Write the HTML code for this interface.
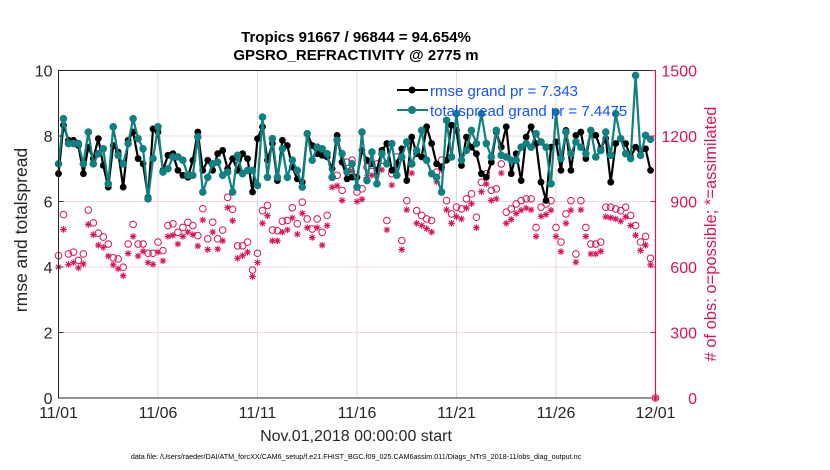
<!DOCTYPE html>
<html><head><meta charset="utf-8"><style>
html,body{margin:0;padding:0;background:#fff;}
svg{display:block;font-family:"Liberation Sans",sans-serif;}
</style></head><body>
<svg id="chart" width="830" height="470" viewBox="0 0 830 470">
  <text x="356" y="42" text-anchor="middle" font-size="15" font-weight="bold" fill="#000">Tropics 91667 / 96844 = 94.654%</text>
  <text x="356" y="60" text-anchor="middle" font-size="15" font-weight="bold" fill="#000">GPSRO_REFRACTIVITY @ 2775 m</text>
  <g id="grid"></g>
  <g id="obs"></g>
  <g id="lines"></g>
  <rect x="58.5" y="70.5" width="597" height="327.5" fill="none" stroke="#262626" stroke-width="1"/>
  <line x1="655.5" y1="70.5" x2="655.5" y2="398" stroke="#d6145a" stroke-width="1.2"/>
  <g id="axes"></g>
  <text transform="translate(27,230) rotate(-90)" text-anchor="middle" font-size="17.5" fill="#262626">rmse and totalspread</text>
  <text transform="translate(716,234) rotate(-90)" text-anchor="middle" font-size="16.5" fill="#d6145a"># of obs: o=possible; *=assimilated</text>
  <text x="356" y="441" text-anchor="middle" font-size="16" fill="#262626">Nov.01,2018 00:00:00 start</text>
  <text x="356" y="459" text-anchor="middle" font-size="7.2" fill="#000">data file: /Users/raeder/DAI/ATM_forcXX/CAM6_setup/f.e21.FHIST_BGC.f09_025.CAM6assim.011/Diags_NTrS_2018-11/obs_diag_output.nc</text>
  <g>
    <g>
      <line x1="397" y1="90" x2="428" y2="90" stroke="#000" stroke-width="2"/>
      <circle cx="412" cy="90" r="3.5" fill="#000"/>
      <text x="430" y="96" font-size="15" fill="#1452ff">rmse grand pr = 7.343</text>
    </g>
    <g>
      <line x1="397" y1="110" x2="428" y2="110" stroke="#108080" stroke-width="2"/>
      <circle cx="412" cy="110" r="4" fill="#108080"/>
      <text x="430" y="116" font-size="15" fill="#1452ff">totalspread grand pr = 7.4475</text>
    </g>
  </g>
</svg>
<script>
const xTickLabels = ["11/01","11/06","11/11","11/16","11/21","11/26","12/01"];
const xTickDays = [0,5,10,15,20,25,30];
const yLeftTicks = [0,2,4,6,8,10];
const yRightTicks = [0,300,600,900,1200,1500];
const rmse = [6.85,8.33,7.87,7.87,7.71,6.85,7.66,7.31,7.92,7.1,6.44,7.71,7.51,6.44,7.87,8.12,7.31,7.15,6.13,8.22,8.12,6.95,7.41,7.46,6.95,6.8,6.74,7.26,8.12,6.95,7.26,6.95,7.46,7.56,7.0,7.31,6.95,7.46,7.31,6.29,7.92,8.28,7.26,7.77,6.64,7.87,7.71,7.05,6.69,6.59,8.07,7.71,7.46,7.41,7.36,7.0,8.02,7.2,6.69,
6.74,6.74,7.56,7.26,7.15,6.95,7.56,7.77,6.95,7.15,7.61,6.64,7.97,7.46,7.36,8.28,7.77,7.15,7.05,7.26,8.33,8.17,7.1,7.97,7.66,7.46,6.85,6.74,7.2,8.12,7.66,8.28,6.85,7.46,6.64,7.97,8.28,7.77,6.59,6.03,7.66,7.82,6.95,8.17,6.95,8.02,8.12,7.31,8.17,8.02,7.61,7.92,6.59,7.77,7.92,7.77,7.36,7.66,7.56,7.61,6.95];
const totalspread = [7.15,8.53,7.77,7.77,7.77,7.15,8.12,7.15,7.46,7.61,6.54,8.28,7.41,7.15,7.77,8.53,7.92,7.61,6.08,7.31,8.28,6.9,7.0,7.36,7.36,7.26,6.8,6.8,7.97,6.29,6.74,7.15,7.2,6.8,6.9,6.29,7.41,6.85,6.95,6.95,6.49,8.58,6.74,7.92,6.74,7.61,6.74,7.26,6.95,6.44,8.07,7.26,7.66,7.61,7.46,6.74,7.87,7.46,6.9,
7.15,6.44,8.12,6.64,7.51,6.54,7.46,7.15,7.77,6.8,7.36,7.82,7.15,7.56,8.17,7.26,6.85,6.74,6.29,8.48,7.36,8.68,7.26,7.56,8.17,7.77,8.68,7.77,7.36,8.17,7.41,7.36,7.26,7.26,7.66,7.77,7.66,8.07,7.82,7.66,6.54,8.73,7.31,8.12,7.46,7.82,7.66,7.46,8.17,7.36,7.56,8.12,7.41,8.68,7.92,7.46,7.31,9.85,7.41,8.02,7.9];
const obsPossible = [652,840,660,668,630,660,861,802,755,737,705,642,637,599,705,795,705,705,663,663,714,675,790,798,759,781,805,790,744,867,729,805,729,769,919,864,697,697,714,586,663,858,882,769,766,810,813,871,798,897,820,774,
820,759,836,1011,1020,951,1080,1089,943,958,1057,1065,1072,1089,813,1027,1104,721,904,1072,858,836,820,813,1035,1089,904,843,874,866,912,935,828,988,1027,951,958,1072,851,866,889,904,912,912,781,874,889,904,781,714,843,904,660,904,781,705,705,714,874,874,866,858,874,836,790,714,740,640,0];
const obsAssim = [600,772,612,620,596,614,795,748,700,690,650,610,592,560,662,740,650,672,620,612,668,628,740,745,705,740,760,748,696,815,680,760,682,720,872,812,640,652,668,556,620,800,835,720,720,760,770,825,750,846,780,735,
780,700,790,965,972,905,1035,1040,900,910,1010,1020,1025,1045,770,975,1060,680,862,1030,800,790,776,760,990,1045,862,800,830,820,870,890,780,945,980,905,912,1030,800,818,845,860,870,862,740,832,840,860,740,670,800,860,622,862,740,660,660,672,830,826,820,810,830,790,745,676,700,610,0];

const NS="http://www.w3.org/2000/svg";
const X0=58.5,X1=655.5,Y0=398,Y1=70.5;
function xDay(d){return X0+(X1-X0)*d/30;}
function xIdx(i){return xDay(i*0.25);}
function yL(v){return Y0-(Y0-Y1)*v/10;}
function yR(c){return Y0-(Y0-Y1)*c/1500;}
function mk(tag,attrs,parent){const e=document.createElementNS(NS,tag);for(const k in attrs)e.setAttribute(k,attrs[k]);parent.appendChild(e);return e;}

const grid=document.getElementById('grid'),axes=document.getElementById('axes'),obs=document.getElementById('obs'),lines=document.getElementById('lines');
yLeftTicks.forEach((v,i)=>{
  if(v>0&&v<10){const g=mk('line',{x1:X0,x2:X1,y1:yL(v),y2:yL(v),stroke:'#efd7e0','stroke-width':1},grid);
  
  }
  const t=mk('text',{x:X0-6,y:yL(v)+6,'text-anchor':'end','font-size':16,fill:'#262626'},axes);t.textContent=v;
  
  
  const tk=mk('line',{x1:X0,x2:X0+5,y1:yL(v),y2:yL(v),stroke:'#262626'},axes);
  
  
});
yRightTicks.forEach(c=>{
  const t=mk('text',{x:697,y:yR(c)+6,'text-anchor':'end','font-size':16,fill:'#d6145a'},axes);t.textContent=c;
  
  
  const tk=mk('line',{x1:X1-5,x2:X1,y1:yR(c),y2:yR(c),stroke:'#d6145a'},axes);
  
  
});
xTickDays.forEach((d,i)=>{
  const x=xDay(d);
  if(d>0&&d<30){const g=mk('line',{x1:x,x2:x,y1:Y0,y2:Y1,stroke:'#dcdcdc','stroke-width':1},grid);
  
  }
  const t=mk('text',{x:x,y:418,'text-anchor':'middle','font-size':16,fill:'#262626'},axes);t.textContent=xTickLabels[i];
  
  
});
obsPossible.forEach((c,i)=>{
  const e=mk('circle',{cx:xIdx(i),cy:yR(c),r:3.3,fill:'none',stroke:'#d6145a','stroke-width':1},obs);
  
  
});
obsAssim.forEach((c,i)=>{
  const x=xIdx(i),y=yR(c),r=3.3;
  const g=mk('path',{d:`M${x-r} ${y}H${x+r}M${x} ${y-r}V${y+r}M${x-2.4} ${y-2.4}L${x+2.4} ${y+2.4}M${x-2.4} ${y+2.4}L${x+2.4} ${y-2.4}`,stroke:'#d6145a','stroke-width':1.1,fill:'none'},obs);
  
  
});
function series(vals,color,r,name){
  const p=mk('polyline',{points:vals.map((v,i)=>xIdx(i)+','+yL(v)).join(' '),fill:'none',stroke:color,'stroke-width':2.2,'stroke-linejoin':'round'},lines);
  
  
  vals.forEach((v,i)=>{
    const c=mk('circle',{cx:xIdx(i),cy:yL(v),r:r,fill:color},lines);
    
    
  });
}
series(rmse,'#000',3.4,'rmse');
series(totalspread,'#108080',3.8,'totalspread');
</script>
</body></html>
